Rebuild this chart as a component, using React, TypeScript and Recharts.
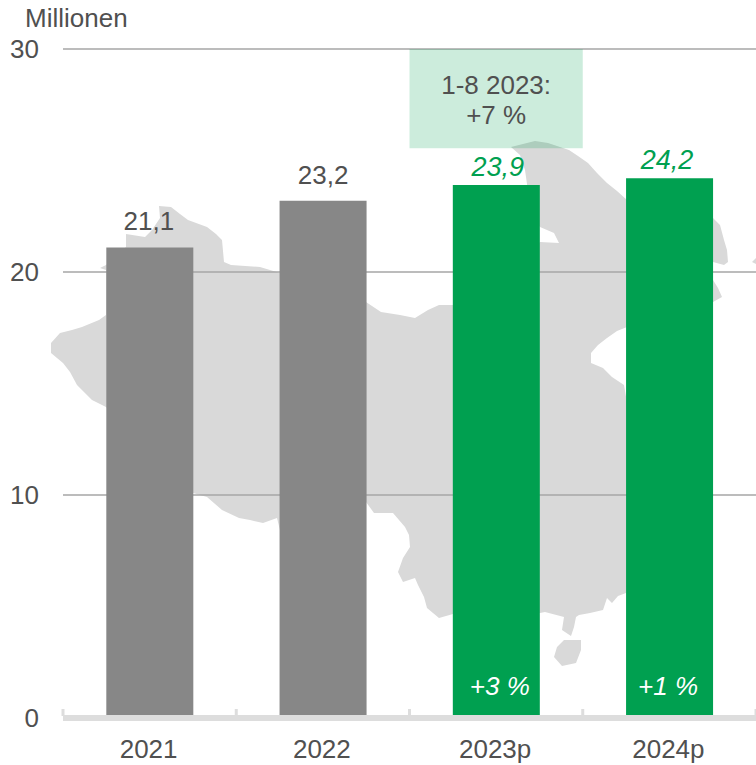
import React from 'react';
import { BarChart, Bar, XAxis, YAxis, CartesianGrid, Cell, LabelList, ReferenceArea } from 'recharts';

const categories = ['2021', '2022', '2023p', '2024p'];
const values = [21.1, 23.2, 23.9, 24.2];
const growth = ['', '', '+3 %', '+1 %'];
const yTicks = [0, 10, 20, 30];
const noteLines = ['1-8 2023:', '+7 %'];

const data = categories.map((year, i) => ({ year, value: values[i], growth: growth[i] }));

const GREY = '#878787';
const GREEN = '#00A050';
const TEXT = '#505050';
const FONT = '"Liberation Sans", Arial, sans-serif';
const BAND = 173.25;

// the labels sit a little off centre in the reference
const VALUE_NUDGE = [-1, 0, 1.5, -2.5];
const GROWTH_NUDGE = [0, 0, 3.5, -1.5];

// background map, decoration only
const MAP_PATH =
  'M535 141 L548 143 L569 150 L578 156 L588 163 L597 173 L607 183 L617 191 L627 200 L713 218 L720 225 L724 240 L727 250 L728 262 L724 265 L713 262 ' +
  'L713 280 L718 288 L722 297 L713 302 L627 327 L617 331 L607 338 L598 345 L591 353 L591 363 L603 368 L612 377 L624 385 L640 480 L626 593 ' +
  'L618 596 L612 603 L607 598 L603 610 L590 613 L579 615 L576 617 L574 627 L571 636 L562 630 L564 617 L545 612 L540 613 L453 614 L439 618 L427 608 ' +
  'L424 597 L418 585 L415 578 L403 582 L398 572 L403 558 L410 547 L409 535 L405 527 L393 513 L374 513 L366 502 L280 530 L277 518 L263 523 L250 520 L239 518 ' +
  'L222 510 L207 497 L193 493 L106 407 L92 400 L77 385 L70 372 L63 363 L51 353 L51 343 L60 333 L72 330 L82 327 L99 320 L106 315 L106 270 L100 268 L106 265 ' +
  'L126 247 L126 234 L145 237 L152 230 L160 218 L159 206 L171 207 L180 214 L188 220 L207 227 L216 234 L222 240 L224 262 L231 265 L260 267 L280 273 ' +
  'L366 302 L381 312 L400 315 L415 318 L428 310 L439 305 L453 305 L500 270 L540 242 L559 243 L554 233 L540 227 L530 215 L527 184 L525 170 L520 155 L511 147 Z ' +
  'M564 640 L581 640 L581 650 L576 663 L562 666 L554 657 L557 647 Z ' +
  'M756 258 L752 262 L756 264 Z';

const XTick = ({ x, y, payload, index }: any) => (
  <g>
    <line x1={x - BAND / 2} x2={x - BAND / 2} y1={709} y2={716} stroke="#DDDDDD" strokeWidth={3} />
    {index === categories.length - 1 && (
      <line x1={x + BAND / 2} x2={x + BAND / 2} y1={709} y2={716} stroke="#DDDDDD" strokeWidth={3} />
    )}
    <text x={x - 1} y={y} dy={32} textAnchor="middle" fontSize={26} fontFamily={FONT} fill={TEXT}>
      {payload.value}
    </text>
  </g>
);

const ValueLabel = ({ x, y, width, value, index }: any) => {
  const forecast = categories[index].endsWith('p');
  return (
    <text
      x={x + width / 2 + VALUE_NUDGE[index]}
      y={y - (forecast ? 9 : 17)}
      textAnchor="middle"
      fontSize={forecast ? 27 : 26}
      fontStyle={forecast ? 'italic' : 'normal'}
      fontFamily={FONT}
      fill={forecast ? GREEN : TEXT}
    >
      {String(value).replace('.', ',')}
    </text>
  );
};

const GrowthLabel = ({ x, y, width, height, value, index }: any) =>
  value ? (
    <text
      x={x + width / 2 + GROWTH_NUDGE[index]}
      y={y + height - 23}
      textAnchor="middle"
      fontSize={26}
      fontStyle="italic"
      fontFamily={FONT}
      fill="#FFFFFF"
    >
      {value}
    </text>
  ) : null;

const NoteLabel = ({ viewBox }: any) => (
  <text textAnchor="middle" fontSize={26} fontFamily={FONT} fill={TEXT}>
    {noteLines.map((line, i) => (
      <tspan key={line} x={viewBox.x + viewBox.width / 2} y={viewBox.y + 45 + i * 30}>
        {line}
      </tspan>
    ))}
  </text>
);

export default function App() {
  return (
    <div style={{ position: 'absolute', left: 0, top: 0, width: 756, height: 765, overflow: 'hidden', background: '#fff' }}>
      <svg width={756} height={765} style={{ position: 'absolute', left: 0, top: 0 }}>
        <path d={MAP_PATH} fill="#D9D9D9" />
      </svg>
      <div
        style={{ position: 'absolute', left: 25, top: 3, fontFamily: FONT, fontSize: 26, color: TEXT, lineHeight: '30px' }}
      >
        Millionen
      </div>
      <div style={{ position: 'absolute', left: 0, top: 0 }}>
        <BarChart
          width={756}
          height={765}
          data={data}
          margin={{ top: 49, right: 0, bottom: 0, left: 0 }}
          barCategoryGap="25%"
        >
          <CartesianGrid vertical={false} stroke="#A6A6A6" strokeWidth={1.3} />
          <ReferenceArea
            x1="2023p"
            x2="2023p"
            y1={25.55}
            y2={30}
            fill={GREEN}
            fillOpacity={0.2}
            stroke="none"
            ifOverflow="visible"
            label={NoteLabel}
          />
          <XAxis
            dataKey="year"
            height={47}
            tick={XTick}
            tickLine={false}
            axisLine={{ stroke: '#DDDDDD', strokeWidth: 6 }}
            interval={0}
          />
          <YAxis
            domain={[0, 30]}
            ticks={yTicks}
            width={63}
            tickLine={false}
            axisLine={false}
            tickSize={0}
            tickMargin={24}
            tick={{ fontSize: 26, fontFamily: FONT, fill: TEXT }}
          />
          <Bar dataKey="value" isAnimationActive={false}>
            {data.map((d) => (
              <Cell key={d.year} fill={d.year.endsWith('p') ? GREEN : GREY} />
            ))}
            <LabelList dataKey="value" content={ValueLabel} />
            <LabelList dataKey="growth" content={GrowthLabel} />
          </Bar>
        </BarChart>
      </div>
    </div>
  );
}
